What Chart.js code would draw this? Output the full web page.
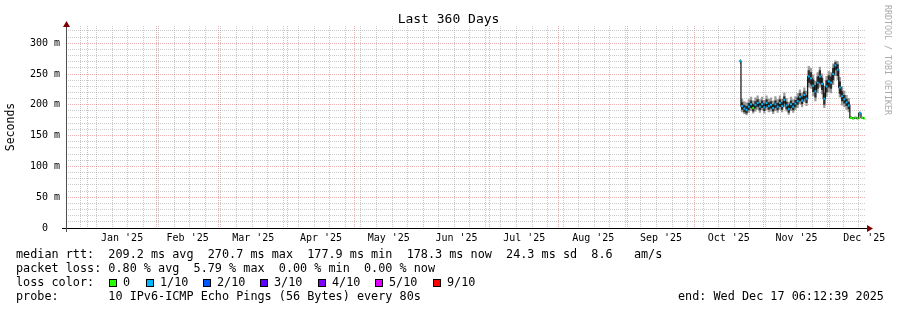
<!DOCTYPE html>
<html>
<head>
<meta charset="utf-8">
<title>Last 360 Days</title>
<script src="https://cdn.jsdelivr.net/npm/chart.js@4.4.1/dist/chart.umd.min.js"></script>
<style>
  body { margin: 0; background: #fff; }
  #wrap { position: relative; width: 897px; height: 310px; font-family: 'DejaVu Sans Mono', monospace; color: #000; }
  #chart { position: absolute; left: 0; top: 0; }
  .txt { position: absolute; white-space: pre; font-size: 11.8px; line-height: 14px; }
  .box { position: absolute; width: 6px; height: 6px; border: 1px solid #000; }
  #title { position: absolute; left: 0; width: 897px; top: 11px; text-align: center; font-size: 13px; line-height: 16px; }
  #mark { position: absolute; left: 883px; top: 5px; writing-mode: vertical-rl; font-size: 8.3px; color: #aaa; }
</style>
</head>
<body>
<div id="wrap">
  <canvas id="chart" width="897" height="310"></canvas>
  <div id="title">Last 360 Days</div>
  <div id="mark">RRDTOOL / TOBI OETIKER</div>
  <div class="txt" style="left:16px; top:247px">median rtt:  209.2 ms avg  270.7 ms max  177.9 ms min  178.3 ms now  24.3 ms sd  8.6   am/s</div>
  <div class="txt" style="left:16px; top:261px">packet loss: 0.80 % avg  5.79 % max  0.00 % min  0.00 % now</div>
  <div class="txt" style="left:16px; top:275px">loss color:</div>
  <div class="txt" style="left:16px; top:289px">probe:       10 IPv6-ICMP Echo Pings (56 Bytes) every 80s</div>
  <div class="txt" style="left:678px; top:289px">end: Wed Dec 17 06:12:39 2025</div>
</div>
<script>
// day of year 2025 (Jan 1 = 0), one value per consolidated step
const days = [293.5, 294.5, 295.5, 296.5, 297.5, 298.5, 299.5, 300.5, 301.5, 302.5,
  303.5, 304.5, 305.5, 306.5, 307.5, 308.5, 309.5, 310.5, 311.5, 312.5,
  313.5, 314.5, 315.5, 316.5, 317.5, 318.5, 319.5, 320.5, 321.5, 322.5,
  323.5, 324.5, 325.5, 326.5, 327.5, 328.5, 329.5, 330.5, 331.5, 332.5,
  333.5, 334.5, 335.5, 336.5, 337.5, 338.5, 339.5, 340.5, 341.5, 342.5,
  343.5, 344.5, 345.5, 346.5, 347.5, 348.5, 349.5];

// values in ms
const median = [271, 198, 194, 192, 197, 201, 195, 200, 203, 197,
  201, 196, 203, 198, 200, 195, 201, 197, 203, 198,
  208, 199, 193, 201, 197, 202, 206, 213, 207, 216,
  210, 246, 243, 231, 222, 236, 246, 234, 210, 230,
  238, 236, 250, 264, 257, 228, 214, 209, 204, 199,
  179, 178, 179, 178, 186, 179, 178];
const smokeMax = [274, 210, 206, 204, 209, 213, 207, 212, 215, 209,
  213, 208, 215, 210, 212, 207, 214, 209, 215, 210,
  220, 211, 205, 213, 209, 214, 219, 225, 220, 228,
  223, 263, 260, 249, 239, 253, 262, 251, 231, 247,
  255, 253, 267, 272, 271, 245, 230, 223, 216, 211,
  182, 180, 181, 180, 189, 181, 180];
const smokeQ3 = [273, 204, 200, 198, 203, 207, 201, 206, 209, 203,
  207, 202, 209, 204, 206, 201, 207, 203, 209, 204,
  214, 205, 199, 207, 203, 208, 212, 219, 213, 222,
  216, 256, 253, 241, 232, 246, 256, 244, 220, 240,
  248, 246, 260, 269, 266, 238, 222, 216, 210, 205,
  180, 179, 180, 179, 187, 180, 179];
const smokeQ1 = [269, 192, 188, 186, 191, 195, 189, 194, 197, 191,
  195, 190, 197, 192, 194, 189, 195, 191, 197, 192,
  202, 193, 187, 195, 191, 196, 200, 206, 201, 209,
  203, 236, 233, 221, 212, 226, 236, 224, 200, 220,
  228, 226, 240, 256, 247, 218, 206, 202, 198, 193,
  178, 177, 178, 177, 185, 178, 177];
const smokeMin = [266, 188, 185, 183, 187, 190, 186, 189, 192, 187,
  191, 186, 192, 188, 189, 185, 190, 187, 192, 188,
  196, 189, 184, 190, 187, 191, 195, 201, 196, 204,
  198, 228, 226, 214, 206, 219, 228, 217, 195, 213,
  221, 219, 232, 247, 240, 212, 199, 196, 192, 188,
  177, 176, 177, 176, 183, 177, 176];
// pings lost out of 10
const loss = [1, 1, 1, 1, 1, 1, 0, 1, 1, 1,
  1, 1, 1, 1, 1, 1, 1, 1, 1, 1,
  1, 1, 1, 1, 1, 1, 1, 1, 1, 1,
  1, 1, 1, 1, 1, 1, 1, 1, 1, 1,
  1, 1, 1, 1, 1, 1, 1, 1, 1, 1,
  0, 0, 0, 0, 1, 0, 0];

const lossLabels = ['0', '1/10', '2/10', '3/10', '4/10', '5/10', '9/10'];
const lossColors = ['#26ff00', '#00b8ff', '#0059ff', '#5e00ff', '#7e00ff', '#dd00ff', '#ff0000'];

const monthNames = ['Jan', 'Feb', 'Mar', 'Apr', 'May', 'Jun', 'Jul', 'Aug', 'Sep', 'Oct', 'Nov', 'Dec'];
const monthStarts = [0, 31, 59, 90, 120, 151, 181, 212, 243, 273, 304, 334, 365];

// window: Dec 22 2024 06:12:39 .. Dec 17 2025 06:12:39
const xMin = -9.741, xMax = 350.259;
const yMax = 328;

// loss legend boxes
const legendX = [109, 146, 203, 260, 318, 375, 433];
const wrap = document.getElementById('wrap');
lossLabels.forEach((l, i) => {
    const b = document.createElement('div');
    b.className = 'box';
    b.style.left = legendX[i] + 'px';
    b.style.top = '279px';
    b.style.background = lossColors[i];
    wrap.appendChild(b);
    const t = document.createElement('div');
    t.className = 'txt';
    t.style.left = (legendX[i] + 14) + 'px';
    t.style.top = '275px';
    t.textContent = l;
    wrap.appendChild(t);
});

const lossColor = l => l === 0 ? lossColors[0] : (l <= 5 ? lossColors[Math.ceil(l)] : lossColors[6]);

// grid positions
const weekLines = [];
for (let d = -3; d <= xMax; d += 7) weekLines.push(d);
const monthLines = monthStarts.filter(d => d >= xMin && d <= xMax);
const monthMids = {};
for (let m = 0; m < 12; m++) monthMids[(monthStarts[m] + monthStarts[m + 1]) / 2] = monthNames[m] + " '25";

const pts = arr => days.map((d, i) => ({x: d, y: arr[i]}));

const GRID = 'rgba(140,140,140,0.45)';
const MGRID = 'rgba(200,30,30,0.35)';

const axesPlugin = {
    id: 'rrdAxes',
    afterDatasetsDraw(chart) {
        const ctx = chart.ctx;
        const a = chart.chartArea;
        ctx.save();
        ctx.lineWidth = 1;
        ctx.strokeStyle = '#000';
        ctx.beginPath();
        ctx.moveTo(a.left - 4, a.bottom + 0.5);
        ctx.lineTo(a.right + 2, a.bottom + 0.5);
        ctx.stroke();
        ctx.strokeStyle = '#505050';
        ctx.beginPath();
        ctx.moveTo(a.left + 0.5, a.bottom + 4);
        ctx.lineTo(a.left + 0.5, a.top - 2);
        ctx.stroke();
        ctx.fillStyle = '#7f0000';
        ctx.beginPath();
        ctx.moveTo(a.right + 1, a.bottom - 3);
        ctx.lineTo(a.right + 7, a.bottom + 0.5);
        ctx.lineTo(a.right + 1, a.bottom + 4);
        ctx.fill();
        ctx.beginPath();
        ctx.moveTo(a.left - 3, a.top + 1);
        ctx.lineTo(a.left + 0.5, a.top - 5);
        ctx.lineTo(a.left + 4, a.top + 1);
        ctx.fill();
        ctx.restore();
    }
};

Chart.defaults.font.family = "'DejaVu Sans Mono', monospace";
Chart.defaults.color = '#000';

new Chart(document.getElementById('chart'), {
    type: 'line',
    data: {
        datasets: [
            {label: 'median loss', data: pts(median), showLine: false, pointStyle: 'line', pointRadius: 1,
                pointBorderWidth: 2, pointBorderColor: loss.map(lossColor), order: 0},
            {label: 'median', data: pts(median), borderColor: '#101010', borderWidth: 1.2, stepped: 'middle',
                pointRadius: 0, fill: false, order: 1},
            {label: 'smoke q3', data: pts(smokeQ3), borderColor: 'transparent', borderWidth: 1, backgroundColor: '#2e2e2e',
                fill: '+1', stepped: 'middle', pointRadius: 0, order: 2},
            {label: 'smoke q1', data: pts(smokeQ1), borderColor: 'transparent', borderWidth: 1, fill: false,
                stepped: 'middle', pointRadius: 0, order: 3},
            {label: 'smoke max', data: pts(smokeMax), borderColor: 'transparent', borderWidth: 1, backgroundColor: '#9c9c9c',
                fill: '+1', stepped: 'middle', pointRadius: 0, order: 4},
            {label: 'smoke min', data: pts(smokeMin), borderColor: 'transparent', borderWidth: 1, fill: false,
                stepped: 'middle', pointRadius: 0, order: 5}
        ]
    },
    options: {
        responsive: false,
        animation: false,
        layout: {padding: {top: 26, right: 31, bottom: 0, left: 0}},
        plugins: {legend: {display: false}, tooltip: {enabled: false}, title: {display: false}},
        scales: {
            x: {
                type: 'linear',
                min: xMin,
                max: xMax,
                afterBuildTicks: scale => {
                    const vals = new Set([...weekLines, ...monthLines, ...Object.keys(monthMids).map(Number)]);
                    scale.ticks = [...vals].filter(v => v >= xMin && v <= xMax).sort((a, b) => a - b).map(v => ({value: v}));
                },
                afterFit: scale => { scale.height = 82; },
                grid: {
                    drawTicks: false,
                    color: c => monthLines.includes(c.tick.value) ? MGRID : (weekLines.includes(c.tick.value) ? GRID : 'transparent')
                },
                border: {display: false, dash: [1, 1]},
                ticks: {
                    autoSkip: false,
                    maxRotation: 0,
                    padding: 4,
                    font: {size: 10},
                    callback: v => monthMids[v] || ''
                }
            },
            y: {
                min: 0,
                max: yMax,
                afterBuildTicks: scale => {
                    const t = [];
                    for (let v = 0; v <= yMax; v += 10) t.push({value: v});
                    scale.ticks = t;
                },
                afterFit: scale => { scale.width = 66; },
                grid: {
                    drawTicks: false,
                    color: c => c.tick.value % 50 === 0 ? MGRID : GRID
                },
                border: {display: false, dash: [1, 1]},
                title: {display: true, text: 'Seconds', font: {size: 11.5}, padding: {top: 4, bottom: 0}},
                ticks: {
                    autoSkip: false,
                    padding: 6,
                    font: {size: 10},
                    callback: v => v % 50 === 0 ? (v === 0 ? '0  ' : v + ' m') : ''
                }
            }
        }
    },
    plugins: [axesPlugin]
});
</script>
</body>
</html>
